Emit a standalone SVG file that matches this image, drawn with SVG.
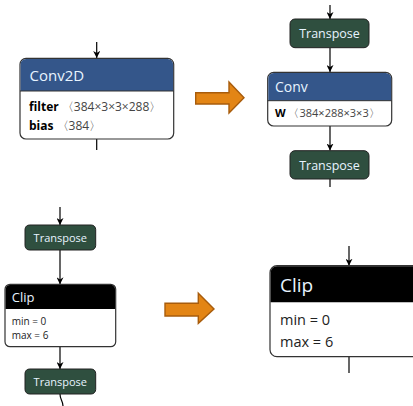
<svg xmlns="http://www.w3.org/2000/svg" width="413" height="406" viewBox="0 0 413 406">
<defs>
<marker id="ah" viewBox="0 0 10 10" refX="10" refY="5" markerWidth="7" markerHeight="7" markerUnits="userSpaceOnUse" orient="auto"><path d="M0,0 L10,5 L0,10 L3,5 Z" fill="#000"/></marker>
</defs>
<style>
.t{font-family:"Open Sans","Noto Sans","DejaVu Sans",sans-serif}
.box{fill:#fff;stroke:#333;stroke-width:1.2}
.blue{fill:#34568a}
.blk{fill:#000}
.tr{fill:#2f4f3f;stroke:#222;stroke-width:1}
.ht{fill:#e8f4ff}
.line{stroke:#000;stroke-width:1.2;fill:none}
.arr{fill:#e38515;stroke:#a85c0c;stroke-width:1.4}
.g{fill:#444}
</style>
<g id="connectors">
<line class="line" x1="96.7" y1="42" x2="96.7" y2="58" marker-end="url(#ah)"/>
<line class="line" x1="96.7" y1="139" x2="96.7" y2="150"/>
<line class="line" x1="330" y1="5" x2="330" y2="19" marker-end="url(#ah)"/>
<line class="line" x1="330" y1="48" x2="330" y2="72" marker-end="url(#ah)"/>
<line class="line" x1="330" y1="126" x2="330" y2="150.5" marker-end="url(#ah)"/>
<line class="line" x1="330" y1="179" x2="330" y2="187"/>
<line class="line" x1="60" y1="207" x2="60" y2="225" marker-end="url(#ah)"/>
<line class="line" x1="60" y1="250" x2="60" y2="284.3" marker-end="url(#ah)"/>
<line class="line" x1="60" y1="346.7" x2="60" y2="369" marker-end="url(#ah)"/>
<path class="line" d="M60,394 C60,400 63,401 63,406"/>
<line class="line" x1="349" y1="246" x2="349" y2="265.7" marker-end="url(#ah)"/>
<line class="line" x1="349" y1="356.7" x2="349" y2="373"/>
</g>
<g id="arrow1"><path class="arr" d="M195.7,92.7 H229 V82 L244,97.7 L229,113 V104 H195.7 Z"/></g>
<g id="arrow2"><path class="arr" d="M165,303.3 H198.3 V293.3 L214,309 L198.3,323.3 V316 H165 Z"/></g>
<g id="conv2d">
<rect class="box" x="20" y="58.3" width="153.7" height="80.7" rx="6"/>
<path class="blue" d="M26,58.9 H167.7 A5.4,5.4 0 0 1 173.1,64.3 V91 H20.6 V64.3 A5.4,5.4 0 0 1 26,58.9 Z"/>
<line x1="20" y1="91" x2="173.7" y2="91" stroke="#333" stroke-width="1"/>
<text class="t ht" x="29.5" y="80.5" font-size="15">Conv2D</text>
<text class="t" x="29" y="110.5" font-size="12"><tspan font-weight="bold">filter</tspan><tspan class="g"> 〈384×3×3×288〉</tspan></text>
<text class="t" x="29" y="129.5" font-size="12"><tspan font-weight="bold">bias</tspan><tspan class="g"> 〈384〉</tspan></text>
</g>
<g id="transpose1">
<rect class="tr" x="290" y="19" width="79" height="28.7" rx="5"/>
<text class="t ht" x="329.5" y="38" font-size="12.5" text-anchor="middle">Transpose</text>
</g>
<g id="conv">
<rect class="box" x="267.7" y="72.3" width="124" height="53.7" rx="6"/>
<path class="blue" d="M273.7,72.9 H385.7 A5.4,5.4 0 0 1 391.1,78.3 V100.7 H268.3 V78.3 A5.4,5.4 0 0 1 273.7,72.9 Z"/>
<line x1="267.7" y1="100.7" x2="391.7" y2="100.7" stroke="#333" stroke-width="1"/>
<text class="t ht" x="275" y="91.5" font-size="14">Conv</text>
<text class="t" x="275" y="117" font-size="11"><tspan font-weight="bold">W</tspan><tspan class="g"> 〈384×288×3×3〉</tspan></text>
</g>
<g id="transpose2">
<rect class="tr" x="290" y="150.7" width="79" height="28.3" rx="5"/>
<text class="t ht" x="329.5" y="169.5" font-size="12.5" text-anchor="middle">Transpose</text>
</g>
<g id="transpose3">
<rect class="tr" x="25" y="225" width="70.7" height="25" rx="4.5"/>
<text class="t ht" x="60.3" y="242" font-size="11" text-anchor="middle">Transpose</text>
</g>
<g id="clip1">
<rect class="box" x="5" y="284.3" width="110.7" height="62.4" rx="5"/>
<path class="blk" d="M10,284.9 H110.1 A4.4,4.4 0 0 1 115.1,289.3 V309 H5.6 V289.3 A4.4,4.4 0 0 1 10,284.9 Z"/>
<text class="t ht" x="11.7" y="301.5" font-size="13">Clip</text>
<text class="t" x="11.7" y="325" font-size="10" fill="#222">min = 0</text>
<text class="t" x="11.7" y="338.5" font-size="10" fill="#222">max = 6</text>
</g>
<g id="transpose4">
<rect class="tr" x="25" y="369" width="70.7" height="25" rx="4.5"/>
<text class="t ht" x="60.3" y="386" font-size="11" text-anchor="middle">Transpose</text>
</g>
<g id="clip2">
<rect class="box" x="270" y="265.7" width="160" height="91" rx="7"/>
<path class="blk" d="M277,266.3 H430 V302.3 H270.6 V273 A6.4,6.4 0 0 1 277,266.3 Z"/>
<text class="t ht" x="280" y="291.5" font-size="19">Clip</text>
<text class="t" x="280" y="325" font-size="14.5" fill="#222">min = 0</text>
<text class="t" x="280" y="346.5" font-size="14.5" fill="#222">max = 6</text>
</g>
</svg>
